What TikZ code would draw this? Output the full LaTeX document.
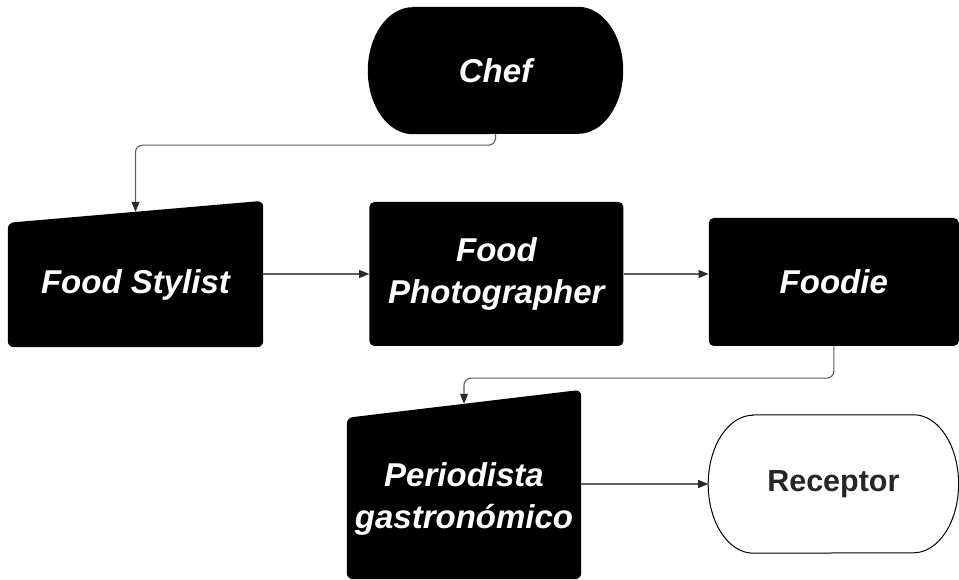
\documentclass[tikz,border=0pt]{standalone}
\usepackage{fontspec}
\setmainfont{Liberation Sans}
\usetikzlibrary{arrows.meta,positioning,calc,backgrounds}
\definecolor{ink}{HTML}{000000}
\definecolor{wire}{HTML}{5E5E5E}
\definecolor{tip}{HTML}{2A2A2A}
\definecolor{label}{HTML}{262626}
\tikzset{
  role/.style={inner sep=0pt, align=center, text=white, font=\fontsize{33}{42}\selectfont\bfseries\itshape},
  block/.style={role, fill=ink, rounded corners=5pt, minimum width=254pt, minimum height=144pt},
  manual/.style={role, minimum width=255pt, minimum height=124pt},
  pill/.style={role, minimum width=255pt, minimum height=127pt},
  arrow/.style={-{Triangle[length=10pt,width=8pt,color=tip]}, draw=wire, line width=1.1pt, rounded corners=7pt}
}

\begin{document}
\begin{tikzpicture}[x=1pt,y=1pt]
  \useasboundingbox (0,0) rectangle (959,580);

  \node[pill] (chef) at (495.5,509.5) {Chef};
  \node[manual] (stylist) at (135.5,295) {Food Stylist};
  \node[block, right=106pt of stylist, yshift=11pt] (photo) {Food\\Photographer};
  \node[block, minimum width=250pt, minimum height=128pt, right=85pt of photo, yshift=-8pt] (foodie) {Foodie};
  \node[manual, minimum width=234pt, minimum height=161pt] (press) at (464,81.5) {Periodista\\gastronómico};
  \node[pill, minimum width=250pt, minimum height=138pt, right=127pt of press, yshift=14.5pt,
    text=label, font=\fontsize{30.5}{36}\selectfont\bfseries] (receiver) {Receptor};

  % shapes behind the labels
  \begin{scope}[on background layer]
    \fill[ink] ([xshift=45pt]chef.north west) -- ([xshift=-45pt]chef.north east)
      arc[start angle=90, end angle=-90, x radius=45pt, y radius=63.5pt]
      -- ([xshift=45pt]chef.south west)
      arc[start angle=270, end angle=90, x radius=45pt, y radius=63.5pt] -- cycle;
    \draw[ink, line width=1pt, fill=white] ([xshift=45pt]receiver.north west) -- ([xshift=-45pt]receiver.north east)
      arc[start angle=90, end angle=-90, x radius=45pt, y radius=69pt]
      -- ([xshift=45pt]receiver.south west)
      arc[start angle=270, end angle=90, x radius=45pt, y radius=69pt] -- cycle;

    \coordinate (stylist-tr) at ([yshift=22pt]stylist.north east);
    \coordinate (press-tr) at ([yshift=28pt]press.north east);
    \fill[ink, rounded corners=6pt] (stylist.south) -- (stylist.south east) -- (stylist-tr)
      -- (stylist.north west) -- (stylist.south west) -- cycle;
    \fill[ink, rounded corners=6pt] (press.south) -- (press.south east) -- (press-tr)
      -- (press.north west) -- (press.south west) -- cycle;
  \end{scope}

  \coordinate (stylist-top) at ($(stylist.north west)!0.5!(stylist-tr)$);
  \coordinate (press-top) at ($(press.north west)!0.5!(press-tr)$);

  \draw[arrow] (chef.south) -- ++(0,-11) -| (stylist-top);
  \draw[arrow] (stylist.east |- photo.west) -- (photo.west);
  \draw[arrow] (photo.east) -- (photo.east -| foodie.west);
  \draw[arrow] (foodie.south) -- ++(0,-32) -| (press-top);
  \draw[arrow] (press.east |- receiver.west) -- (receiver.west);
\end{tikzpicture}
\end{document}
